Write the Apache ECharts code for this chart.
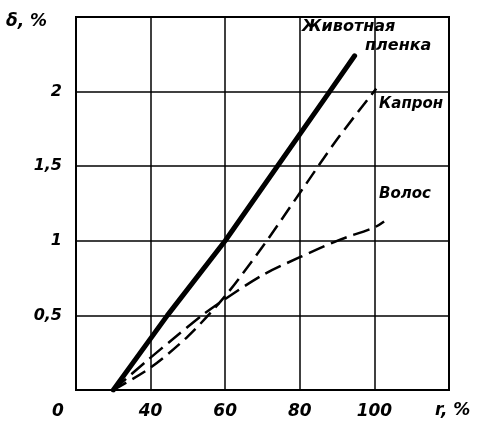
<!DOCTYPE html>
<html>
<head>
<meta charset="utf-8">
<script src="https://cdn.jsdelivr.net/npm/echarts@6/dist/echarts.min.js"></script>
<style>
  html, body { margin: 0; padding: 0; background: #fff; }
  #chart { width: 489px; height: 429px; }
</style>
</head>
<body>
<div id="chart"></div>
<script>
// r, % -> δ, %
const animalX = [30, 44.5, 60, 88, 94.7];
const animalY = [0, 0.5, 1.0, 2.0, 2.24];

const kapronX = [30, 40, 50, 60, 70, 80, 90, 100.5];
const kapronY = [0, 0.15, 0.36, 0.63, 0.96, 1.32, 1.68, 2.02];

const volosX = [30, 39.2, 46.4, 54.3, 60, 70, 80, 90, 100, 102.6];
const volosY = [0, 0.2, 0.35, 0.51, 0.61, 0.77, 0.89, 1.0, 1.09, 1.13];

const seriesNames = ['Животная\nпленка', 'Капрон', 'Волос'];

const font = 'DejaVu Sans';
const pairs = (xs, ys) => xs.map((x, i) => [x, ys[i]]);

const myChart = echarts.init(document.getElementById('chart'));
myChart.setOption({
    animation: false,
    grid: {
        left: 76, right: 40, top: 17, bottom: 39,
        show: true, borderColor: '#000', borderWidth: 2
    },
    xAxis: {
        type: 'value', min: 20, max: 120, interval: 20,
        axisLine: { show: true, lineStyle: { color: '#000', width: 2 } },
        axisTick: { show: false },
        splitLine: { show: true, lineStyle: { color: '#000', width: 1.5 } },
        axisLabel: {
            color: '#000', fontFamily: font, fontStyle: 'italic', fontWeight: 'bold', fontSize: 17,
            margin: 13,
            formatter: v => v === 120 ? '' : (v === 20 ? '{z|0}' : String(v)),
            rich: { z: { color: '#000', fontFamily: font, fontStyle: 'italic', fontWeight: 'bold', fontSize: 17, padding: [0, 36, 0, 0] } }
        }
    },
    yAxis: {
        type: 'value', min: 0, max: 2.5, interval: 0.5,
        axisLine: { show: true, lineStyle: { color: '#000', width: 2 } },
        axisTick: { show: false },
        splitLine: { show: true, lineStyle: { color: '#000', width: 1.5 } },
        axisLabel: {
            color: '#000', fontFamily: font, fontStyle: 'italic', fontWeight: 'bold', fontSize: 16,
            margin: 14,
            formatter: v => (v === 0 || v === 2.5) ? '' : String(v).replace('.', ',')
        }
    },
    graphic: [
        { type: 'text', left: 6, top: 13, style: { text: 'δ, %', fill: '#000', font: 'italic bold 17px ' + font } },
        { type: 'text', left: 435, top: 402, style: { text: 'r, %', fill: '#000', font: 'italic bold 17px ' + font } },
        { type: 'text', left: 302, top: 19, style: { text: 'Животная', fill: '#000', font: 'italic bold 16px ' + font, backgroundColor: '#fff' } },
        { type: 'text', left: 365, top: 38, style: { text: 'пленка', fill: '#000', font: 'italic bold 16px ' + font, backgroundColor: '#fff', padding: [0, 0, 7, 0] } },
        { type: 'text', left: 379, top: 97, style: { text: 'Капрон', fill: '#000', font: 'italic bold 15px ' + font } },
        { type: 'text', left: 379, top: 187, style: { text: 'Волос', fill: '#000', font: 'italic bold 15px ' + font } }
    ],
    series: [
        {
            name: seriesNames[0], type: 'line', data: pairs(animalX, animalY),
            showSymbol: false, lineStyle: { color: '#000', width: 5, cap: 'round' }, z: 3
        },
        {
            name: seriesNames[1], type: 'line', data: pairs(kapronX, kapronY),
            showSymbol: false, smooth: 0.3,
            lineStyle: { color: '#000', width: 2.5, type: [15, 7] }, z: 3
        },
        {
            name: seriesNames[2], type: 'line', data: pairs(volosX, volosY),
            showSymbol: false, smooth: 0.3,
            lineStyle: { color: '#000', width: 2.5, type: [17, 7] }, z: 3
        }
    ]
});
</script>
</body>
</html>
